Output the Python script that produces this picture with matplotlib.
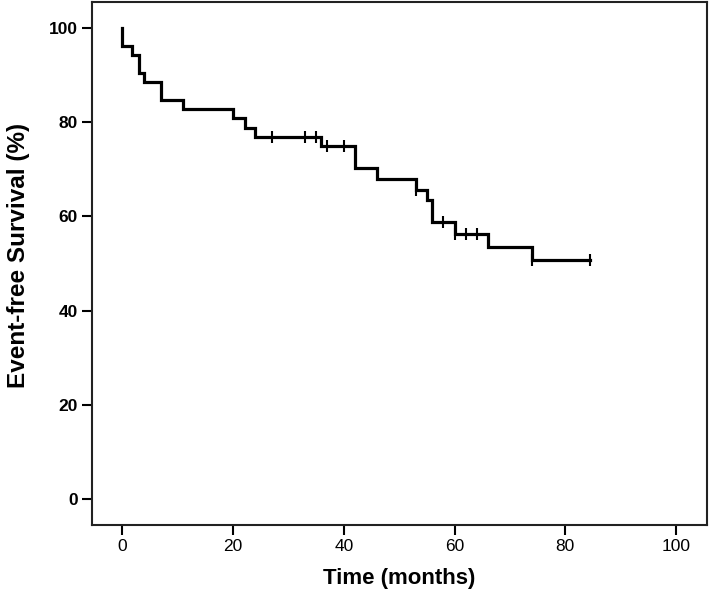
import numpy as np
import matplotlib
matplotlib.use("Agg")
import matplotlib.pyplot as plt

# Kaplan-Meier step data (time in months, survival in %)
step_times = [0.0, 1.8, 3.0, 4.0, 7.0, 11.0, 20.0, 22.2, 24.0, 35.8, 42.0,
              46.0, 53.0, 55.0, 56.0, 60.0, 66.0, 74.0]
step_surv = [96.2, 94.2, 90.4, 88.5, 84.6, 82.7, 80.8, 78.8, 76.9, 74.9, 70.2,
             67.9, 65.7, 63.5, 58.7, 56.3, 53.4, 50.7]
start_surv = 100.0
end_time = 84.5
censor_times = [27, 33, 35, 37, 40, 53, 58, 60, 62, 64, 74, 84.5]

x_ticks = [0, 20, 40, 60, 80, 100]
y_ticks = [0, 20, 40, 60, 80, 100]

plt.rcParams['font.family'] = ['Liberation Sans', 'DejaVu Sans']

fig = plt.figure(figsize=(7.09, 5.96), dpi=100)
ax = fig.add_axes([0.1293, 0.1196, 0.8683, 0.877])

xs = [0.0] + step_times + [end_time]
ys = [start_surv] + step_surv + [step_surv[-1]]
ax.step(xs, ys, where='post', color='black', lw=2.3, solid_joinstyle='miter')

all_t = np.array(step_times)
all_s = np.array(step_surv)
def surv_at(t):
    idx = np.searchsorted(all_t, t, side='right') - 1
    return start_surv if idx < 0 else all_s[idx]
cs = [surv_at(t) for t in censor_times]
ax.plot(censor_times, cs, linestyle='none', marker='|', markersize=9,
        markeredgewidth=1.5, color='black')

ax.set_xlim(-5.54, 105.65)
ax.set_ylim(-5.46, 105.5)
ax.set_xticks(x_ticks)
ax.set_yticks(y_ticks)
ax.set_xticklabels([str(v) for v in x_ticks], fontsize=12.5)
ax.set_yticklabels([str(v) for v in y_ticks], fontsize=12.5, fontweight='bold')
ax.tick_params(axis='both', direction='out', length=7, width=1.5, color='black')
ax.tick_params(axis='x', pad=3.5)
ax.tick_params(axis='y', pad=3)
for sp in ax.spines.values():
    sp.set_linewidth(1.5)
    sp.set_color('#222222')

ax.set_xlabel('Time (months)', fontsize=16, fontweight='bold', labelpad=10)
ax.set_ylabel('Event-free Survival (%)', fontsize=17.5, fontweight='bold')
ax.yaxis.set_label_coords(-0.100, 0.516)

fig.savefig('out.png', dpi=100)
